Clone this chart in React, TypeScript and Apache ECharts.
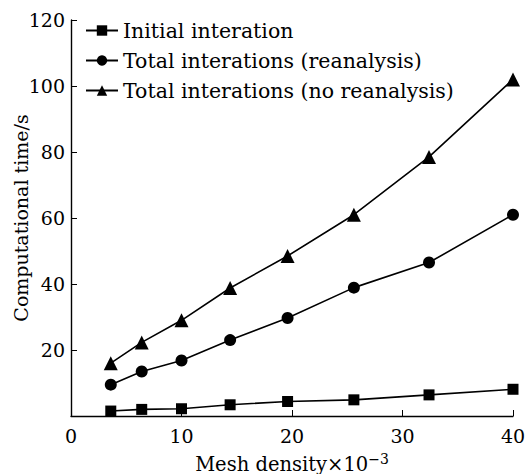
import React, { useEffect, useRef } from "react";
import * as echarts from "echarts";

const xValues = [3.6, 6.4, 10, 14.4, 19.6, 25.6, 32.4, 40];
const initialIter = [1.5, 2.0, 2.2, 3.4, 4.4, 4.9, 6.4, 8.1];
const totalReanalysis = [9.5, 13.5, 16.8, 23.0, 29.7, 38.9, 46.5, 61.0];
const totalNoReanalysis = [16.0, 22.3, 29.0, 38.8, 48.5, 61.0, 78.5, 102.0];
const seriesNames = [
  "Initial interation",
  "Total interations (reanalysis)",
  "Total interations (no reanalysis)",
];
const FONT = "'DejaVu Serif', serif";

export default function App() {
  const ref = useRef<HTMLDivElement>(null);
  useEffect(() => {
    if (!ref.current) return;
    const chart = echarts.init(ref.current, undefined, { renderer: "svg" });
    const mk = (vals: number[]) => xValues.map((x, i) => [x, vals[i]]);
    const lineStyle = { color: "#000", width: 1.6 };
    chart.setOption({
      animation: false,
      backgroundColor: "#fff",
      textStyle: { fontFamily: FONT, color: "#000" },
      grid: {
        left: 71,
        right: 12,
        top: 20,
        bottom: 58,
        containLabel: false,
        outerBoundsMode: "none",
      },
      legend: {
        orient: "vertical",
        left: 80,
        top: 15,
        itemWidth: 32,
        itemHeight: 13,
        itemGap: 9,
        textStyle: { fontFamily: FONT, fontSize: 20.5, color: "#000" },
        data: seriesNames,
      },
      xAxis: {
        type: "value",
        min: 0,
        max: 40,
        interval: 10,
        name: "{a|Mesh density×10}{s|−3}",
        nameLocation: "middle",
        nameGap: 36,
        nameMoveOverlap: false,
        nameTextStyle: {
          rich: {
            a: { fontFamily: FONT, fontSize: 19.5, color: "#000" },
            s: { fontFamily: FONT, fontSize: 14, color: "#000", padding: [0, 0, 10, 0] },
          },
        },
        axisLine: { lineStyle: { color: "#000", width: 1.4 } },
        axisTick: { inside: true, length: 6, lineStyle: { color: "#000" } },
        axisLabel: { fontFamily: FONT, fontSize: 19, color: "#000", margin: 10 },
        splitLine: { show: false },
      },
      yAxis: {
        type: "value",
        min: 0,
        max: 120,
        interval: 20,
        name: "Computational time/s",
        nameLocation: "middle",
        nameGap: 41,
        nameMoveOverlap: false,
        nameTextStyle: { fontFamily: FONT, fontSize: 19, color: "#000" },
        axisLine: { show: true, lineStyle: { color: "#000", width: 1.4 } },
        axisTick: { show: true, inside: true, length: 6, lineStyle: { color: "#000" } },
        axisLabel: {
          fontFamily: FONT,
          fontSize: 19,
          color: "#000",
          margin: 6,
          formatter: (v: number) => (v === 0 ? "" : String(v)),
        },
        splitLine: { show: false },
      },
      series: [
        {
          name: seriesNames[0],
          type: "line",
          data: mk(initialIter),
          symbol: "rect",
          symbolSize: 11,
          itemStyle: { color: "#000" },
          lineStyle,
        },
        {
          name: seriesNames[1],
          type: "line",
          data: mk(totalReanalysis),
          symbol: "circle",
          symbolSize: 12,
          itemStyle: { color: "#000" },
          lineStyle,
        },
        {
          name: seriesNames[2],
          type: "line",
          data: mk(totalNoReanalysis),
          symbol: "triangle",
          symbolSize: 14,
          itemStyle: { color: "#000" },
          lineStyle,
        },
      ],
    });
    return () => chart.dispose();
  }, []);
  return (
    <div
      ref={ref}
      style={{ position: "fixed", left: 0, top: 0, width: 525, height: 474 }}
    />
  );
}
